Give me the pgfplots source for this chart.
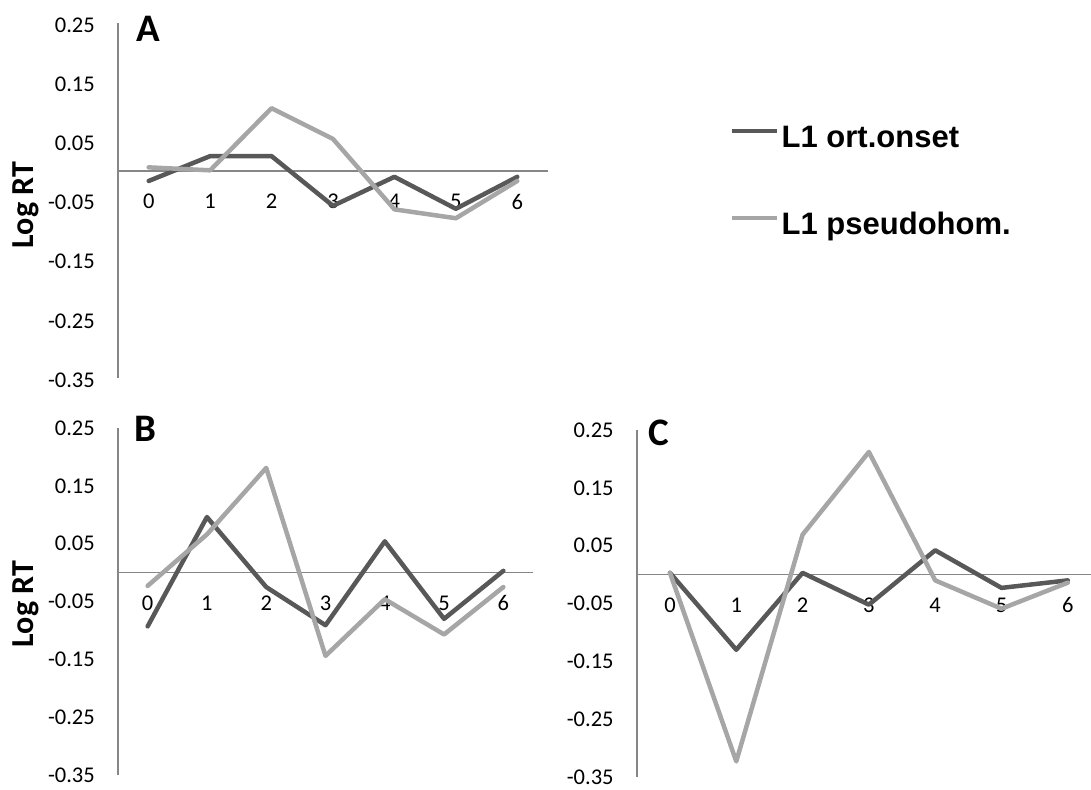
\documentclass[border=0pt]{standalone}
\usepackage{fontspec}
\setmainfont{Carlito}
\newfontfamily\legfont{Liberation Sans}
\usepackage{pgfplots}
\pgfplotsset{compat=1.18}
\definecolor{darkline}{RGB}{88,88,88}
\definecolor{lightline}{RGB}{166,166,166}
\definecolor{axisgray}{RGB}{134,134,134}
\pgfplotsset{
 panel/.style={
  scale only axis,
  axis x line=middle, axis y line=left,
  axis line style={-, draw=axisgray, line width=1.5pt},
  x axis line style={-}, y axis line style={-},
  xmin=-0.5, xmax=6.5, ymin=-0.35, ymax=0.25,
  xtick={0,...,6}, xticklabels={0,1,2,3,4,5,6},
  ytick={-0.35,-0.25,-0.15,-0.05,0.05,0.15,0.25},
  yticklabels={-0.35,-0.25,-0.15,-0.05,0.05,0.15,0.25},
  major tick length=0pt,
  tick label style={font=\fontsize{22.5}{26}\selectfont, inner sep=0pt},
  xticklabel style={anchor=north, yshift=-23pt},
  yticklabel style={anchor=east, xshift=-23pt, yshift=-2pt},
  clip=false,
  anchor=south west,
 },
 dark/.style={draw=darkline, line width=4.5pt, line join=round, line cap=round},
 light/.style={draw=lightline, line width=4.5pt, line join=round, line cap=round},
}
\begin{document}
\begin{tikzpicture}[x=1pt,y=1pt]
\useasboundingbox (0,0) rectangle (1091,789);
% Panel A
\begin{axis}[panel, at={(118pt,411pt)}, width=430pt, height=355pt,
  legend style={draw=none, fill=none, at={(1.4233,0.716)}, anchor=north west,
    inner sep=0pt, row sep=59.2pt, column sep=0pt,
    font=\legfont\bfseries\fontsize{31}{36}\selectfont,
    nodes={inner sep=2pt, text depth=0.15em}},
  legend cell align=left,
  legend image code/.code={\draw[#1, line cap=butt] (0pt,6.2pt) -- (45pt,6.2pt);}]
\addplot[dark] coordinates {(0,-0.017) (1,0.025) (2,0.025) (3,-0.059) (4,-0.010) (5,-0.064) (6,-0.010)};
\addlegendentry{L1 ort.onset}
\addplot[light] coordinates {(0,0.006) (1,0.001) (2,0.106) (3,0.054) (4,-0.065) (5,-0.080) (6,-0.017)};
\addlegendentry{L1 pseudohom.}
\end{axis}
% Panel B
\begin{axis}[panel, at={(118pt,14pt)}, width=415pt, height=347pt,
  yticklabel style={yshift=2pt}]
\addplot[dark] coordinates {(0,-0.093) (1,0.096) (2,-0.025) (3,-0.091) (4,0.054) (5,-0.080) (6,0.003)};
\addplot[light] coordinates {(0,-0.023) (1,0.066) (2,0.181) (3,-0.144) (4,-0.046) (5,-0.107) (6,-0.025)};
\end{axis}
% Panel C
\begin{axis}[panel, at={(636.8pt,12pt)}, width=454.2pt, height=347pt, xmax=6.35,
  yticklabel style={yshift=2pt}]
\addplot[dark] coordinates {(0,0.003) (1,-0.130) (2,0.003) (3,-0.052) (4,0.042) (5,-0.023) (6,-0.010)};
\addplot[light] coordinates {(0,0.003) (1,-0.323) (2,0.069) (3,0.212) (4,-0.010) (5,-0.059) (6,-0.014)};
\end{axis}
% Panel letters and axis titles
\node[anchor=west, inner sep=0pt, font=\bfseries\fontsize{39}{44}\selectfont] at (136,760.5) {A};
\node[anchor=west, inner sep=0pt, font=\bfseries\fontsize{39}{44}\selectfont] at (134,360) {B};
\node[anchor=west, inner sep=0pt, font=\bfseries\fontsize{39}{44}\selectfont] at (648,356) {C};
\node[rotate=90, inner sep=0pt, font=\bfseries\fontsize{32}{36}\selectfont] at (25.5,584) {Log RT};
\node[rotate=90, inner sep=0pt, font=\bfseries\fontsize{32}{36}\selectfont] at (25.5,185) {Log RT};
\end{tikzpicture}
\end{document}
